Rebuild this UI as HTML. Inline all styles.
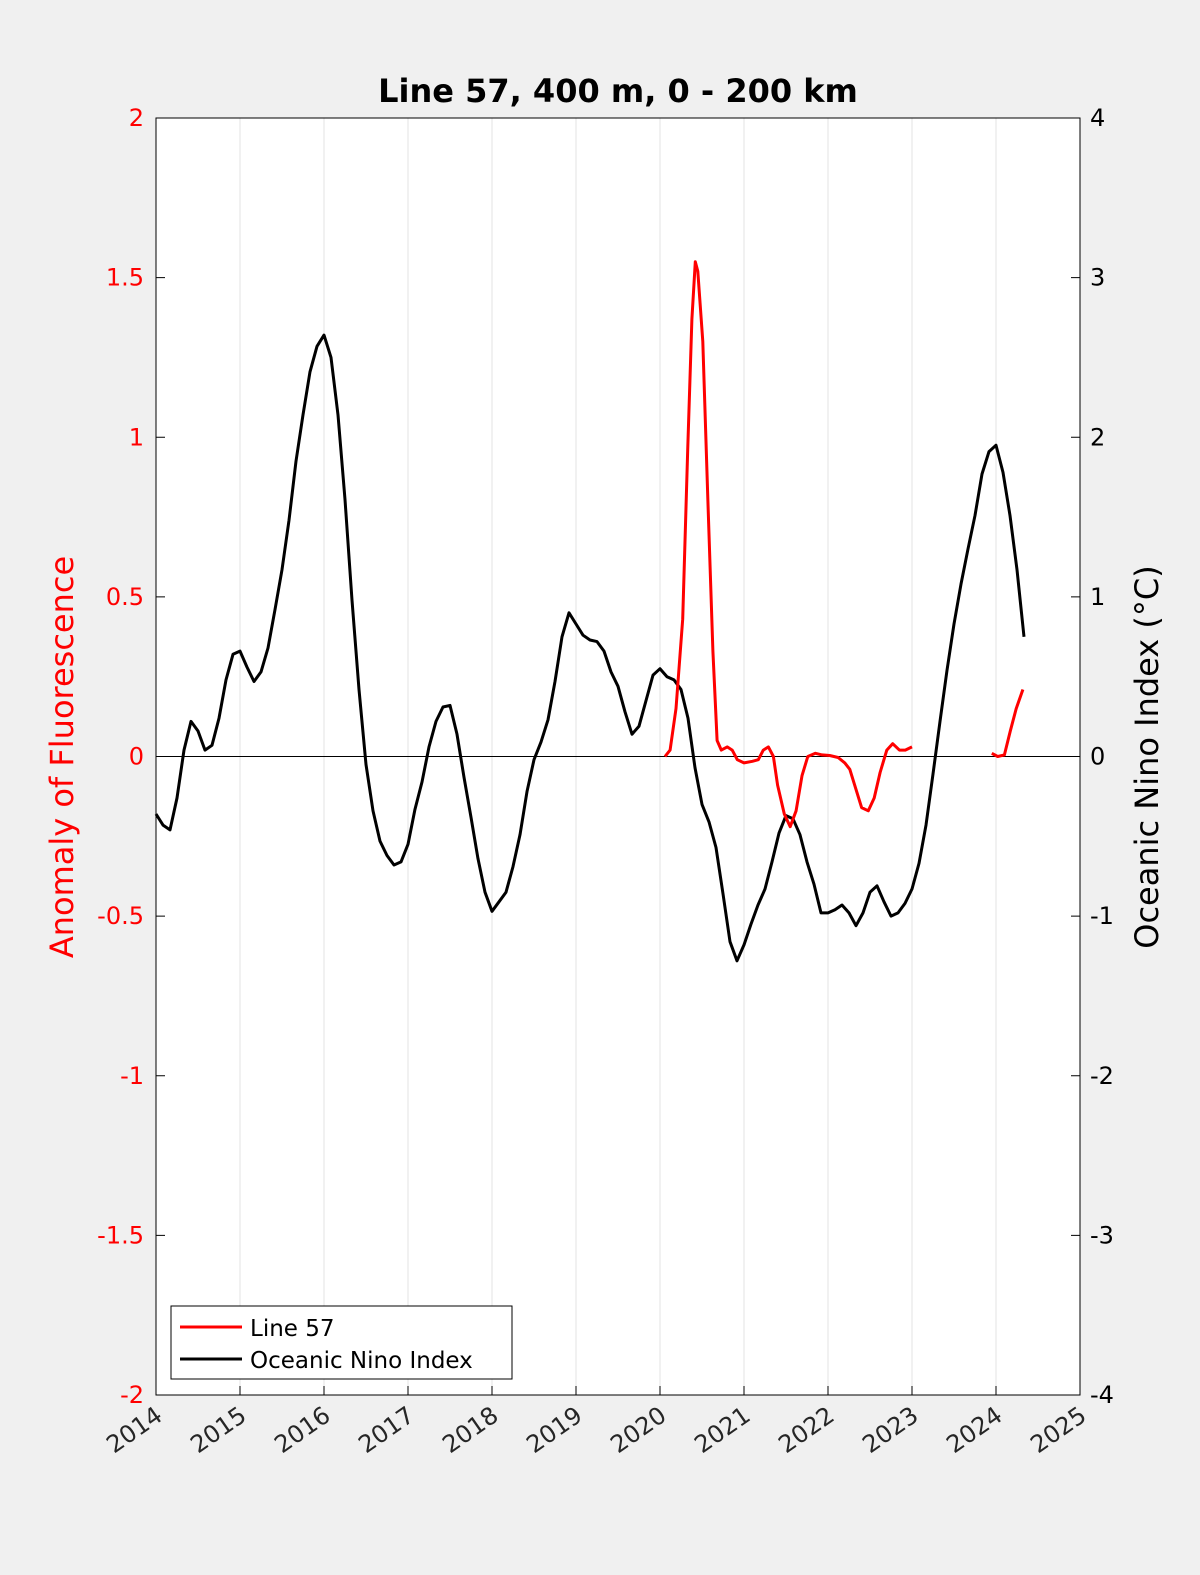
<!DOCTYPE html>
<html><head><meta charset="utf-8"><style>
html,body{margin:0;padding:0;background:#f0f0f0;overflow:hidden;}
svg{display:block;font-family:"DejaVu Sans","Liberation Sans",sans-serif;}
</style></head><body>
<svg id="chart" width="1200" height="1575" viewBox="0 0 1200 1575" xmlns="http://www.w3.org/2000/svg">
<rect x="0" y="0" width="1200" height="1575" fill="#f0f0f0"/>
<rect x="156" y="118" width="924" height="1277" fill="#ffffff"/>
<g id="grid"></g>
<g id="marks"></g>
<g id="axes"></g>
<text x="618" y="102" font-size="32" font-weight="bold" text-anchor="middle" fill="#000">Line 57, 400 m, 0 - 200 km</text>
<text transform="translate(73,757) rotate(-90)" font-size="32" text-anchor="middle" fill="#ff0000">Anomaly of Fluorescence</text>
<text transform="translate(1158,757) rotate(-90)" font-size="32" text-anchor="middle" fill="#000">Oceanic Nino Index (°C)</text>
<g>
<rect x="171" y="1306" width="341" height="73" fill="#fff" stroke="#000" stroke-width="1"/>
<line x1="180" y1="1327" x2="242" y2="1327" stroke="#ff0000" stroke-width="3"/>
<text x="250" y="1336" font-size="23" fill="#000">Line 57</text>
<line x1="180" y1="1359" x2="242" y2="1359" stroke="#000" stroke-width="3"/>
<text x="250" y="1368" font-size="23" fill="#000">Oceanic Nino Index</text>
</g>
</svg>
<script>
const xYears=[2014,2015,2016,2017,2018,2019,2020,2021,2022,2023,2024,2025];
const leftTicks=[2,1.5,1,0.5,0,-0.5,-1,-1.5,-2];
const rightTicks=[4,3,2,1,0,-1,-2,-3,-4];
const oniStart=2014.0;
const oniValues=[-0.36,-0.43,-0.46,-0.26,0.04,0.22,0.16,0.04,0.07,0.24,0.48,0.64,0.66,0.56,0.47,0.53,0.68,0.92,1.17,1.48,1.85,2.14,2.41,2.57,2.64,2.50,2.14,1.61,0.98,0.42,-0.05,-0.34,-0.53,-0.62,-0.68,-0.66,-0.55,-0.33,-0.16,0.06,0.22,0.31,0.32,0.14,-0.13,-0.38,-0.64,-0.85,-0.97,-0.91,-0.85,-0.69,-0.49,-0.22,-0.02,0.09,0.23,0.47,0.75,0.90,0.83,0.76,0.73,0.72,0.66,0.53,0.44,0.28,0.14,0.19,0.35,0.51,0.55,0.50,0.48,0.42,0.24,-0.07,-0.30,-0.41,-0.57,-0.86,-1.16,-1.28,-1.18,-1.05,-0.93,-0.83,-0.66,-0.48,-0.37,-0.39,-0.49,-0.66,-0.80,-0.98,-0.98,-0.96,-0.93,-0.98,-1.06,-0.98,-0.85,-0.81,-0.91,-1.00,-0.98,-0.92,-0.83,-0.67,-0.43,-0.11,0.22,0.54,0.83,1.08,1.30,1.51,1.77,1.91,1.95,1.78,1.51,1.17,0.75];
const l57Dates=[2020.06,2020.12,2020.19,2020.27,2020.33,2020.38,2020.42,2020.45,2020.51,2020.57,2020.63,2020.68,2020.73,2020.80,2020.86,2020.92,2021.0,2021.10,2021.17,2021.23,2021.29,2021.35,2021.40,2021.48,2021.55,2021.62,2021.69,2021.76,2021.85,2021.93,2022.02,2022.12,2022.20,2022.26,2022.33,2022.40,2022.48,2022.55,2022.62,2022.70,2022.77,2022.85,2022.92,2023.0,null,2023.95,2024.02,2024.10,2024.17,2024.24,2024.32];
const l57Values=[0,0.02,0.15,0.43,0.96,1.37,1.55,1.52,1.30,0.80,0.33,0.05,0.02,0.03,0.02,-0.01,-0.02,-0.015,-0.01,0.02,0.03,0,-0.09,-0.18,-0.22,-0.17,-0.06,0,0.01,0.005,0.003,-0.003,-0.02,-0.04,-0.10,-0.16,-0.17,-0.13,-0.05,0.02,0.04,0.02,0.02,0.03,null,0.01,0,0.005,0.08,0.15,0.21];

const X0=156,X1=1080,Y0=118,Y1=1395;
const xs=y=>X0+(y-2014)/(2025-2014)*(X1-X0);
const yl=v=>Y1-(v+2)/4*(Y1-Y0);
const yr=v=>Y1-(v+4)/8*(Y1-Y0);
const NS="http://www.w3.org/2000/svg";
function mk(tag,attrs,parent,txt){const e=document.createElementNS(NS,tag);for(const k in attrs)e.setAttribute(k,attrs[k]);if(txt!==undefined)e.textContent=txt;parent.appendChild(e);return e;}
const grid=document.getElementById('grid'),marks=document.getElementById('marks'),axes=document.getElementById('axes');
xYears.forEach(y=>{
  const l=mk('line',{x1:xs(y),x2:xs(y),y1:Y0,y2:Y1,stroke:'#e3e3e3','stroke-width':1},grid);
  
  
});
const zl=mk('line',{x1:X0,x2:X1,y1:yl(0),y2:yl(0),stroke:'#000','stroke-width':1},marks);


let d='';
oniValues.forEach((v,i)=>{d+=(i?'L':'M')+xs(oniStart+i/12).toFixed(1)+','+yr(v).toFixed(1);});
const oni=mk('path',{d:d,fill:'none',stroke:'#000','stroke-width':3,'stroke-linejoin':'round'},marks);


let d2='',pen=false;
l57Dates.forEach((t,i)=>{const v=l57Values[i];if(t===null||v===null){pen=false;return;}d2+=(pen?'L':'M')+xs(t).toFixed(1)+','+yl(v).toFixed(1);pen=true;});
const l57=mk('path',{d:d2,fill:'none',stroke:'#ff0000','stroke-width':3,'stroke-linejoin':'round'},marks);


mk('rect',{x:X0,y:Y0,width:X1-X0,height:Y1-Y0,fill:'none',stroke:'#000','stroke-width':1},axes);
leftTicks.forEach(v=>{
  const y=yl(v);
  mk('line',{x1:X0,x2:X0+9,y1:y,y2:y,stroke:'#000'},axes);
  const t=mk('text',{x:X0-12,y:y+8,'font-size':24,'text-anchor':'end',fill:'#ff0000'},axes,String(v));
  
  
});
rightTicks.forEach(v=>{
  const y=yr(v);
  mk('line',{x1:X1-9,x2:X1,y1:y,y2:y,stroke:'#000'},axes);
  const t=mk('text',{x:X1+10,y:y+8,'font-size':24,'text-anchor':'start',fill:'#000'},axes,String(v));
  
  
});
xYears.forEach(yv=>{
  const x=xs(yv);
  mk('line',{x1:x,x2:x,y1:Y1-9,y2:Y1,stroke:'#000'},axes);
  const t=mk('text',{transform:'translate('+(x+8)+','+(Y1+24)+') rotate(-35)','font-size':24,'text-anchor':'end',fill:'#262626'},axes,String(yv));
  
  
});
</script>
</body></html>
